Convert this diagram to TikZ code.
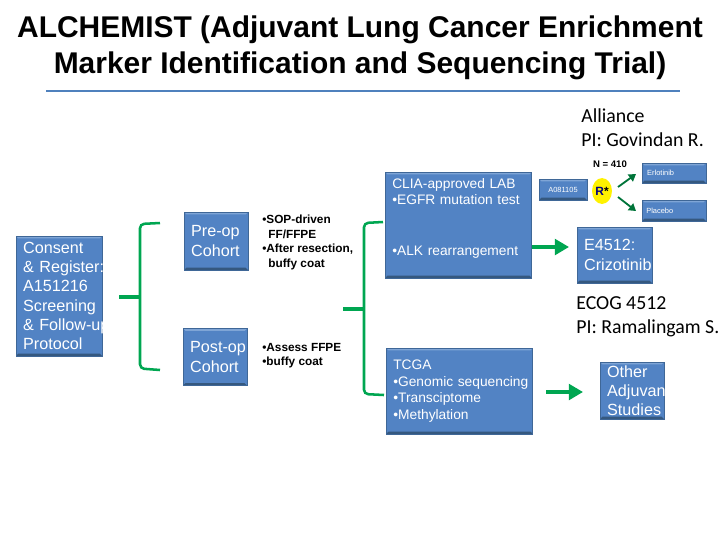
\documentclass[tikz,border=0pt]{standalone}
\usepackage{fontspec}
\setmainfont{Liberation Sans}
\newfontfamily\carlito{Carlito}
\usetikzlibrary{arrows.meta,shapes.geometric}
\definecolor{boxblue}{HTML}{5283C4}
\definecolor{boxedge}{HTML}{3F6797}
\definecolor{boxlight}{HTML}{7FA5D6}
\definecolor{boxdark}{HTML}{35587F}
\definecolor{lineblue}{HTML}{4F81BD}
\definecolor{bracegreen}{HTML}{00A651}
\definecolor{ryellow}{HTML}{FFF200}
\tikzset{
  bluebox/.style 2 args={draw=boxedge, fill=boxblue, text=white, align=left, inner ysep=0pt, inner xsep=5pt,
    text width=#1*0.7087pt-10pt, minimum height=#2*0.7087pt,
    execute at begin node={\hyphenpenalty=10000 \exhyphenpenalty=10000 \hbadness=10000 \hfuzz=100pt},
    path picture={
      \fill[boxlight] (path picture bounding box.north west) -- (path picture bounding box.north east)
        -- ([xshift=-1.6pt,yshift=-1.6pt]path picture bounding box.north east)
        -- ([xshift=1.6pt,yshift=-1.6pt]path picture bounding box.north west) -- cycle;
      \fill[boxdark] (path picture bounding box.south west) -- (path picture bounding box.south east)
        -- ([xshift=-1.6pt,yshift=1.6pt]path picture bounding box.south east)
        -- ([xshift=1.6pt,yshift=1.6pt]path picture bounding box.south west) -- cycle;
    }},
  bigtxt/.style={font=\fontsize{11.5}{13.7}\selectfont},
  midtxt/.style={font=\fontsize{9.8}{11.9}\selectfont},
  boldtxt/.style={font=\fontsize{8.4}{10.3}\selectfont\bfseries, align=left, anchor=north west, inner sep=0pt},
  tinytxt/.style={font=\fontsize{5.3}{6}\selectfont},
  notetxt/.style={font=\fontsize{14.1}{17.5}\selectfont\carlito, align=left, anchor=north west, inner sep=0pt},
  brace/.style={draw=bracegreen, line width=1.8pt, rounded corners=3pt},
  bracetip/.style={draw=bracegreen, line width=2.3pt},
  thinarrow/.style={draw=bracegreen!70!black, line width=1.3pt, -{Triangle[length=5pt,width=6pt]}},
  fatarrow/.style={draw=bracegreen, line width=3.5pt, -{Triangle[length=10pt,width=11pt]}},
}
\begin{document}
\begin{tikzpicture}[x=0.025cm, y=-0.025cm]
	\useasboundingbox (0,0) rectangle (720,540);
	\node[align=center, font=\fontsize{21.3}{25.5}\selectfont\bfseries] (title) at (360,47.5) {ALCHEMIST (Adjuvant Lung Cancer Enrichment\\Marker Identification and Sequencing Trial)};
	\coordinate (ruleL) at (46,91);
	\coordinate (ruleR) at (680,91);
	\draw[lineblue, line width=0.8pt] (ruleL) -- (ruleR);

	\node[notetxt] (alliance) at (581,108) {Alliance\\PI: Govindan R.};
	\node[notetxt] (ecog) at (576,296) {ECOG 4512\\PI: Ramalingam S.};

	\node[bluebox={86}{120}, bigtxt] (consent) at (59,296) {Consent\\\&~Register:\\A151216\\Screening\\\&~Follow-up\\Protocol};
	\node[bluebox={64}{58}, bigtxt] (preop) at (216,241) {Pre-op\\Cohort};
	\node[bluebox={64}{57}, bigtxt] (postop) at (215,357) {Post-op\\Cohort};

	\node[boldtxt] (sop) at (262,215) {•SOP-driven\\\hspace*{4.3pt}FF/FFPE\\•After resection,\\\hspace*{4.3pt}buffy coat};
	\node[boldtxt] (ffpe) at (262,343) {•Assess FFPE\\•buffy coat};

	\node[bluebox={147}{106}, midtxt] (lab) at (458.5,225) {CLIA-approved LAB\\•EGFR mutation test\\\mbox{}\\\mbox{}\\•ALK rearrangement\\\mbox{}};
	\node[bluebox={147}{86}, midtxt] (tcga) at (459.5,391) {TCGA\\\mbox{•Genomic sequencing}\\•Transciptome\\•Methylation};
	\node[bluebox={75}{56}, bigtxt] (crizo) at (614.5,255) {E4512:\\Crizotinib};
	\node[bluebox={64}{57}, bigtxt] (other) at (632,390.5) {Other\\Adjuvan\\Studies};

	\node[bluebox={48}{21}, tinytxt, align=center] (trial) at (563,189.5) {A081105};
	\node[ellipse, fill=ryellow, minimum width=20*0.7087pt, minimum height=26*0.7087pt, inner sep=0pt, font=\fontsize{8.5}{10}\selectfont\bfseries] (rstar) at (602,191) {\textcolor{blue!50!black}{R}*};
	\node[inner sep=0pt, font=\fontsize{6.8}{8}\selectfont\bfseries] (nlabel) at (610,164) {N = 410};
	\node[bluebox={64}{20}, tinytxt] (erlo) at (674,173) {\hspace*{-1.4pt}Erlotinib};
	\node[bluebox={64}{21}, tinytxt] (placebo) at (674,210.5) {\hspace*{-2pt}Placebo};

	\coordinate (rup) at (618,187);
	\coordinate (upend) at (636,174);
	\coordinate (rdown) at (618,197);
	\coordinate (downend) at (636,211);
	\draw[thinarrow] (rup) -- (upend);
	\draw[thinarrow] (rdown) -- (downend);

	% left brace
	\coordinate (tipL) at (119,297);
	\coordinate (midL) at (140,297);
	\coordinate (topL) at (160,223);
	\coordinate (botL) at (160,370);
	\draw[brace] (topL) -- (140,224) -- (140,368.5) -- (botL);
	\draw[bracetip] (tipL) -- (midL);

	% right brace
	\coordinate (tipR) at (343,309);
	\coordinate (midR) at (364,309);
	\coordinate (topR) at (383,222);
	\coordinate (botR) at (384,395);
	\draw[brace] (topR) -- (364,223) -- (364,394) -- (botR);
	\draw[bracetip] (tipR) -- (midR);

	\coordinate (alkout) at (532,247);
	\coordinate (alkend) at (569,247);
	\draw[fatarrow] (alkout) -- (alkend);
	\coordinate (tcgaout) at (546,392);
	\coordinate (tcgaend) at (583,392);
	\draw[fatarrow] (tcgaout) -- (tcgaend);
\end{tikzpicture}
\end{document}
